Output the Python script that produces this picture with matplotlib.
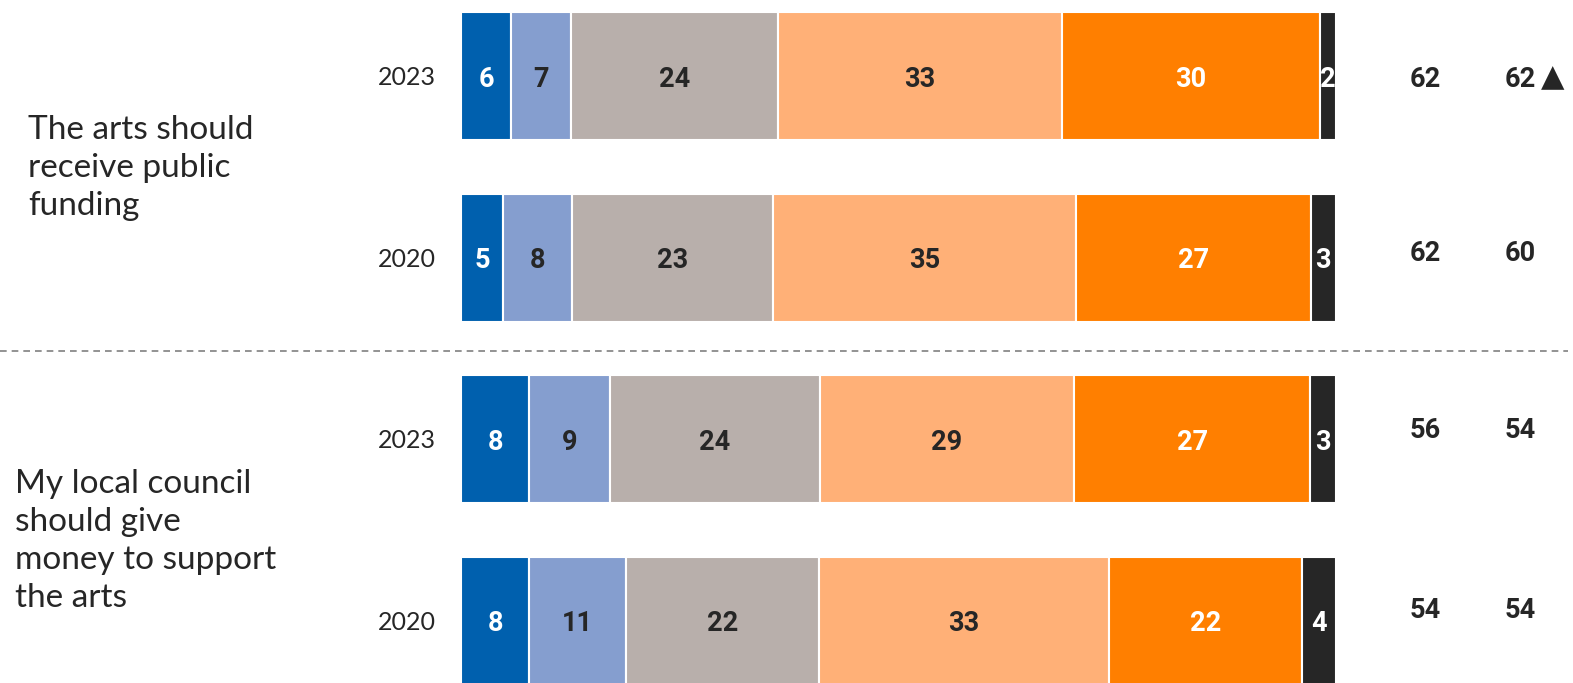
import matplotlib
matplotlib.use("Agg")
import matplotlib.pyplot as plt
from matplotlib.lines import Line2D

# ---- data ----
years = ["2023", "2020", "2023", "2020"]
statements = ["The arts should\nreceive public\nfunding",
              "My local council\nshould give\nmoney to support\nthe arts"]
# segment sizes (share of bar, %)
seg1 = [5.7, 4.8, 7.8, 7.8]      # strongly disagree
seg2 = [6.9, 7.9, 9.2, 11.1]     # tend to disagree
seg3 = [23.6, 22.9, 24.0, 22.0]  # neither
seg4 = [32.5, 34.7, 29.1, 33.1]  # tend to agree
seg5 = [29.5, 26.8, 26.9, 22.1]  # strongly agree
seg6 = [1.8, 2.9, 3.0, 3.9]      # don't know
# printed labels
lab1 = [6, 5, 8, 8]
lab2 = [7, 8, 9, 11]
lab3 = [24, 23, 24, 22]
lab4 = [33, 35, 29, 33]
lab5 = [30, 27, 27, 22]
lab6 = [2, 3, 3, 4]
col_a = [62, 62, 56, 54]
col_b = [62, 60, 54, 54]
col_b_up = [True, False, False, False]

segs = [seg1, seg2, seg3, seg4, seg5, seg6]
labs = [lab1, lab2, lab3, lab4, lab5, lab6]
colors = ["#0060AE", "#859ECF", "#B8AFAB", "#FFB077", "#FF7F00", "#262626"]
txtcol = ["white", "#262626", "#262626", "#262626", "white", "white"]

W, H = 1573, 683
row_px = 181.5
# vertical nudges (px) of the right-hand columns
side_dy = [0, -7, -12, -13]

fig = plt.figure(figsize=(W / 100, H / 100), dpi=100)
ax = fig.add_axes([461 / W, 0, 875 / W, 1])
ax.set_xlim(0, 100)
ax.set_ylim((H - 76) / row_px, -76 / row_px)
ax.axis("off")

num_font = "Roboto"
txt_font = "Lato"
lab_dy = 3 / row_px

for i in range(len(years)):
    left = 0.0
    for s, lab, c, tc in zip(segs, labs, colors, txtcol):
        ax.barh(i, s[i], left=left, height=128 / row_px, color=c,
                edgecolor="white", linewidth=1.5)
        ax.text(left + s[i] / 2, i + lab_dy, str(lab[i]), ha="center",
                va="center", color=tc, fontsize=19.5, fontweight="bold",
                family=num_font)
        left += s[i]
    ax.text(-2.9, i + lab_dy / 2, years[i], ha="right", va="center",
            fontsize=18, color="#262626", family=txt_font, clip_on=False)
    yy = i + side_dy[i] / row_px + lab_dy
    ax.text(110.2, yy, str(col_a[i]), ha="center", va="center",
            fontsize=19.5, fontweight="bold", color="#262626",
            family=num_font, clip_on=False)
    ax.text(121.0, yy, str(col_b[i]), ha="center", va="center",
            fontsize=19.5, fontweight="bold", color="#262626",
            family=num_font, clip_on=False)
    if col_b_up[i]:
        ax.text(124.8, yy - 1 / row_px, "\u25B2", ha="center", va="center",
                fontsize=22, color="#262626", family="DejaVu Sans",
                clip_on=False)

fig.text(28 / W, 1 - 168 / H, statements[0], ha="left", va="center",
         fontsize=24, color="#262626", family=txt_font, linespacing=1.32)
fig.text(15 / W, 1 - 541 / H, statements[1], ha="left", va="center",
         fontsize=24, color="#262626", family=txt_font, linespacing=1.32)

fig.add_artist(Line2D([0, 1568 / W], [1 - 351 / H, 1 - 351 / H],
                      transform=fig.transFigure, color="#808080",
                      linewidth=1.2, linestyle=(0, (4, 3))))

fig.savefig("out.png", dpi=100)
